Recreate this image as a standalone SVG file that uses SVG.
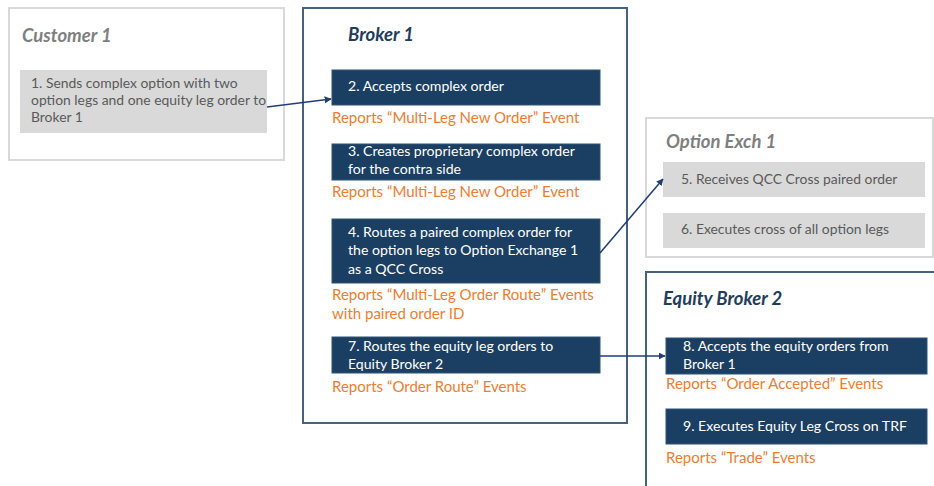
<svg xmlns="http://www.w3.org/2000/svg" width="934" height="486" viewBox="0 0 934 486">
<defs>
<style>
.bg{fill:#ffffff}
.frame-gray{fill:#ffffff;stroke:#d9d9d9;stroke-width:2}
.frame-navy{fill:#ffffff;stroke:#44617f;stroke-width:2}
.title-gray{font-family:Lato,"Liberation Sans",sans-serif;font-weight:bold;font-style:italic;font-size:18.5px;fill:#7f7f7f}
.title-navy{font-family:Lato,"Liberation Sans",sans-serif;font-weight:bold;font-style:italic;font-size:18.5px;fill:#1f3d5e}
.gbox{fill:#d9d9d9}
.nbox{fill:#1b3f63;stroke:#2f5478;stroke-width:1}
.gtext{font-family:Lato,"Liberation Sans",sans-serif;font-size:13.9px;fill:#595959}
.ntext{font-family:Lato,"Liberation Sans",sans-serif;font-size:14.1px;fill:#ffffff}
.otext{font-family:Lato,"Liberation Sans",sans-serif;font-size:15px;fill:#ed7d31}
.conn{stroke:#1f3d7a;stroke-width:1.5;fill:none;marker-end:url(#arrow)}
</style>
<marker id="arrow" viewBox="0 0 10 10" refX="9" refY="5" markerWidth="7" markerHeight="7" markerUnits="userSpaceOnUse" orient="auto">
<path d="M0,0 L10,5 L0,10 z" fill="#1f3d7a"/>
</marker>
</defs>
<rect class="bg" x="0" y="0" width="934" height="486"/>

<g id="customer1">
<rect class="frame-gray" x="9" y="8" width="275" height="152"/>
<text class="title-gray" x="22" y="42">Customer 1</text>
<g id="step1">
<rect class="gbox" x="20" y="70" width="247" height="63"/>
<text class="gtext" x="31" y="88">1. Sends complex option with two</text>
<text class="gtext" x="31" y="105">option legs and one equity leg order to</text>
<text class="gtext" x="31" y="122">Broker 1</text>
</g>
</g>

<g id="broker1">
<rect class="frame-navy" x="303" y="8" width="324" height="415"/>
<text class="title-navy" x="348" y="41">Broker 1</text>
<g id="step2">
<rect class="nbox" x="332" y="70" width="268" height="35"/>
<text class="ntext" x="348" y="91">2. Accepts complex order</text>
</g>
<text class="otext" x="332" y="123">Reports “Multi-Leg New Order” Event</text>
<g id="step3">
<rect class="nbox" x="332" y="144" width="268" height="36"/>
<text class="ntext" x="348" y="156">3. Creates proprietary complex order</text>
<text class="ntext" x="348" y="174">for the contra side</text>
</g>
<text class="otext" x="332" y="197">Reports “Multi-Leg New Order” Event</text>
<g id="step4">
<rect class="nbox" x="332" y="219" width="268" height="64"/>
<text class="ntext" x="348" y="237">4. Routes a paired complex order for</text>
<text class="ntext" x="348" y="255">the option legs to Option Exchange 1</text>
<text class="ntext" x="348" y="274">as a QCC Cross</text>
</g>
<text class="otext" x="332" y="300">Reports “Multi-Leg Order Route” Events</text>
<text class="otext" x="332" y="319">with paired order ID</text>
<g id="step7">
<rect class="nbox" x="332" y="337" width="268" height="36"/>
<text class="ntext" x="348" y="351">7. Routes the equity leg orders to</text>
<text class="ntext" x="348" y="369">Equity Broker 2</text>
</g>
<text class="otext" x="332" y="392">Reports “Order Route” Events</text>
</g>

<g id="optionexch1">
<rect class="frame-gray" x="646" y="118" width="287" height="139"/>
<text class="title-gray" x="666" y="148">Option Exch 1</text>
<g id="step5">
<rect class="gbox" x="663" y="162" width="262" height="35"/>
<text class="gtext" x="681" y="184">5. Receives QCC Cross paired order</text>
</g>
<g id="step6">
<rect class="gbox" x="663" y="213" width="262" height="35"/>
<text class="gtext" x="681" y="234">6. Executes cross of all option legs</text>
</g>
</g>

<g id="equitybroker2">
<rect class="frame-navy" x="646" y="272" width="300" height="230"/>
<text class="title-navy" x="663" y="305">Equity Broker 2</text>
<g id="step8">
<rect class="nbox" x="666" y="338" width="261" height="36"/>
<text class="ntext" x="683" y="351">8. Accepts the equity orders from</text>
<text class="ntext" x="683" y="369">Broker 1</text>
</g>
<text class="otext" x="666" y="389">Reports “Order Accepted” Events</text>
<g id="step9">
<rect class="nbox" x="666" y="409" width="261" height="35"/>
<text class="ntext" x="683" y="431">9. Executes Equity Leg Cross on TRF</text>
</g>
<text class="otext" x="666" y="463">Reports “Trade” Events</text>
</g>

<g id="connectors">
<path class="conn" d="M267,107 L331,99"/>
<path class="conn" d="M600,253 L663,179"/>
<path class="conn" d="M600,356 L665,356"/>
</g>
</svg>
